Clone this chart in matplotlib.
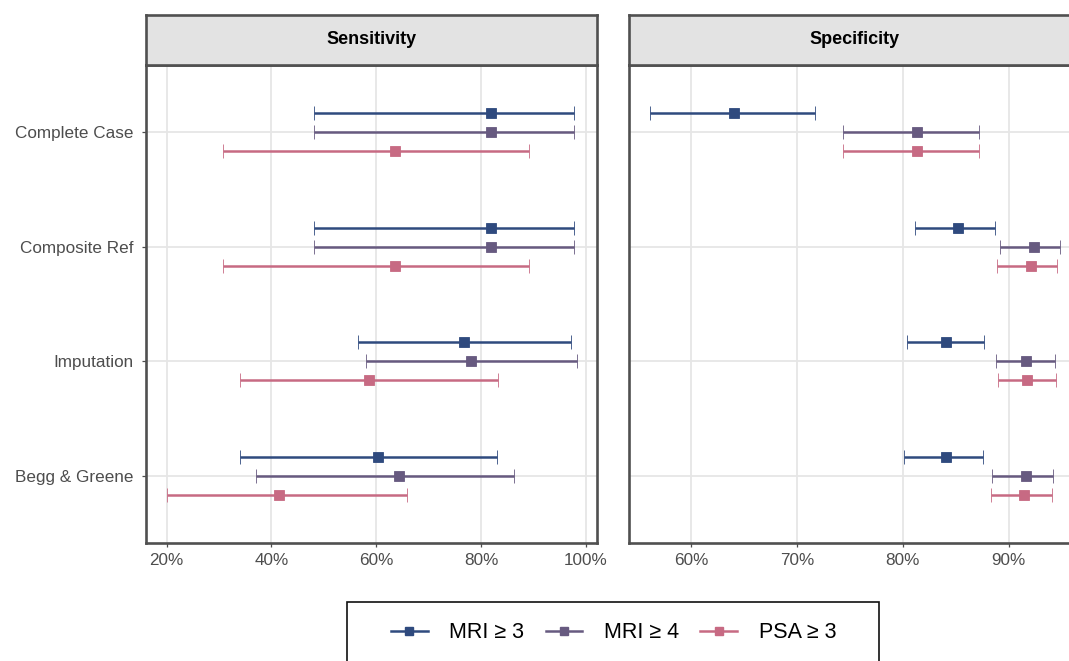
import matplotlib
matplotlib.use("Agg")
import matplotlib.pyplot as plt
import numpy as np
from matplotlib.lines import Line2D
from matplotlib.patches import Rectangle
from matplotlib.ticker import PercentFormatter, FixedLocator

plt.rcParams['font.family'] = ['Liberation Sans', 'DejaVu Sans']

# ---- data (percent) ----
methods = ["Complete Case", "Composite Ref", "Imputation", "Begg & Greene"]
tests = ["MRI \u2265 3", "MRI \u2265 4", "PSA \u2265 3"]
colors = ["#2f4a7e", "#675a80", "#c76a83"]

# Sensitivity: estimate, lower and upper 95% CI per test
sens_mri3 = [81.8, 81.8, 76.8, 60.4]
sens_mri3_lo = [48.2, 48.2, 56.5, 34.0]
sens_mri3_hi = [97.7, 97.7, 97.2, 83.1]
sens_mri4 = [81.8, 81.8, 78.1, 64.4]
sens_mri4_lo = [48.2, 48.2, 58.1, 37.1]
sens_mri4_hi = [97.7, 97.7, 98.2, 86.3]
sens_psa3 = [63.6, 63.6, 58.6, 41.5]
sens_psa3_lo = [30.8, 30.8, 34.0, 20.0]
sens_psa3_hi = [89.1, 89.1, 83.3, 65.8]

# Specificity: estimate, lower and upper 95% CI per test
spec_mri3 = [64.1, 85.2, 84.1, 84.1]
spec_mri3_lo = [56.1, 81.2, 80.4, 80.1]
spec_mri3_hi = [71.7, 88.7, 87.7, 87.6]
spec_mri4 = [81.4, 92.4, 91.6, 91.6]
spec_mri4_lo = [74.4, 89.2, 88.8, 88.4]
spec_mri4_hi = [87.2, 94.9, 94.4, 94.2]
spec_psa3 = [81.4, 92.1, 91.7, 91.5]
spec_psa3_lo = [74.4, 88.9, 89.0, 88.3]
spec_psa3_hi = [87.2, 94.6, 94.5, 94.1]

sens_ticks = [20, 40, 60, 80, 100]
spec_ticks = [60, 70, 80, 90]

panels = [
    ("Sensitivity",
     [(sens_mri3, sens_mri3_lo, sens_mri3_hi),
      (sens_mri4, sens_mri4_lo, sens_mri4_hi),
      (sens_psa3, sens_psa3_lo, sens_psa3_hi)],
     sens_ticks),
    ("Specificity",
     [(spec_mri3, spec_mri3_lo, spec_mri3_hi),
      (spec_mri4, spec_mri4_lo, spec_mri4_hi),
      (spec_psa3, spec_psa3_lo, spec_psa3_hi)],
     spec_ticks),
]

# ---- layout ----
W, H = 1069, 661
fig = plt.figure(figsize=(W / 100, H / 100), dpi=100)
fig.patch.set_facecolor("white")

def fx(px):
    return px / W

def fy(py):
    return 1 - py / H

panel_x = [(146, 597), (629, 1081)]
panel_top, panel_bottom = 65, 543
strip_top = 15

border_col = "#505050"
grid_col = "#e6e6e6"
text_col = "#4d4d4d"
dodge = 0.166

for i, (title, series, ticks) in enumerate(panels):
    x0, x1 = panel_x[i]
    ax = fig.add_axes([fx(x0), fy(panel_bottom), fx(x1 - x0), (panel_bottom - panel_top) / H])
    ypos = np.arange(1, len(methods) + 1)

    all_lo = min(min(s[1]) for s in series)
    all_hi = max(max(s[2]) for s in series)
    span = all_hi - all_lo
    ax.set_xlim(all_lo - 0.05 * span, all_hi + 0.05 * span)
    ax.set_ylim(len(methods) + 0.583, 1 - 0.583)

    for k, (est, lo, hi) in enumerate(series):
        est = np.asarray(est)
        lo = np.asarray(lo)
        hi = np.asarray(hi)
        yy = ypos + (k - 1) * dodge
        ax.errorbar(est, yy, xerr=[est - lo, hi - est], fmt="s", color=colors[k],
                    markersize=7.6, markeredgecolor=colors[k], markeredgewidth=0.6,
                    elinewidth=1.8, capsize=5, capthick=1.8, zorder=3 + k)

    ax.xaxis.set_major_locator(FixedLocator(ticks))
    ax.xaxis.set_major_formatter(PercentFormatter(xmax=100, decimals=0))
    ax.set_yticks(ypos)

    ax.grid(True, color=grid_col, linewidth=1.3, zorder=0)
    ax.set_axisbelow(True)
    ax.tick_params(axis="both", colors=text_col, labelsize=12.3, length=3, width=0.9)
    ax.tick_params(axis="x", pad=4.5)
    ax.tick_params(axis="y", pad=6)
    if i == 0:
        ax.set_yticklabels(methods)
    else:
        ax.set_yticklabels([])
        ax.tick_params(axis="y", length=0)
    for sp in ax.spines.values():
        sp.set_color(border_col)
        sp.set_linewidth(1.9)

    # facet strip
    sax = fig.add_axes([fx(x0), fy(panel_top), fx(x1 - x0), (panel_top - strip_top) / H])
    sax.set_facecolor("#e3e3e3")
    sax.set_xticks([])
    sax.set_yticks([])
    for sp in sax.spines.values():
        sp.set_color(border_col)
        sp.set_linewidth(1.9)
    sax.text(0.5, 0.5, title, transform=sax.transAxes, ha="center", va="center",
             fontsize=13, fontweight="bold", color="black")

# ---- legend ----
handles = [Line2D([0], [0], color=c, linewidth=1.8, marker="s", markersize=6.2,
                  markeredgecolor=c) for c in colors]
fig.legend(handles, tests, loc="center", bbox_to_anchor=(fx(613.5), fy(633)),
           ncol=3, frameon=False, fontsize=15.5, handlelength=1.7,
           handletextpad=1.0, columnspacing=1.0)
fig.patches.append(Rectangle((fx(347), fy(680)), fx(879 - 347), (680 - 602) / H,
                             transform=fig.transFigure, fill=False,
                             edgecolor="#111111", linewidth=1.2))

fig.savefig("out.png", dpi=100)
